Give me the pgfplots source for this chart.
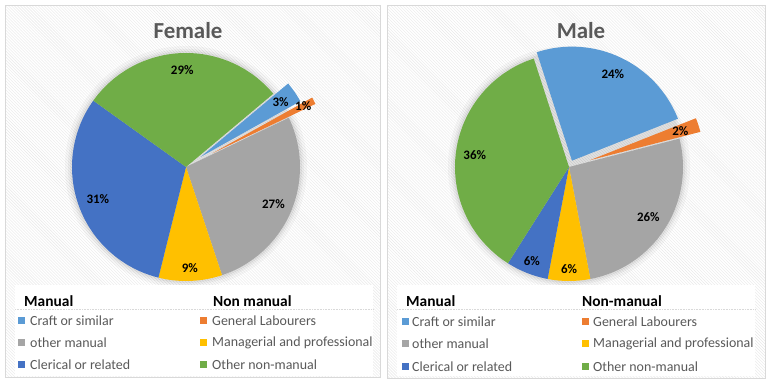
\documentclass[border=0pt]{standalone}
\usepackage{pgfplots}
\pgfplotsset{compat=1.18}
\usepackage{pgfplotstable}
\usetikzlibrary{calc,patterns}
\usepackage{fontspec}
\setmainfont{Carlito}
\definecolor{craft}{HTML}{5B9BD5}
\definecolor{labour}{HTML}{ED7D31}
\definecolor{othman}{HTML}{A5A5A5}
\definecolor{manag}{HTML}{FFC000}
\definecolor{cler}{HTML}{4472C4}
\definecolor{othnon}{HTML}{70AD47}
\definecolor{txtgray}{HTML}{595959}
\definecolor{boxgray}{HTML}{D9D9D9}

% value (%), explode offset, label radius, colour
\pgfplotstableread{
val ex lr col
3 18 115 craft
1 30 132 labour
27 0 95 othman
9 0 101 manag
31 0 94 cler
29 0 97 othnon
}\female
\pgfplotstableread{
val ex lr col
24 7 103 craft
2 22 117 labour
26 0 94 othman
6 0 102 manag
6 0 101 cler
36 0 95 othnon
}\male

\newcommand\drawpie[4]{%
  \fill[black,opacity=0.03] (axis cs:#2,#3) circle[radius=121bp];
  \fill[black,opacity=0.04] (axis cs:#2,#3) circle[radius=118bp];
  \fill[black,opacity=0.05] (axis cs:#2,#3) circle[radius=116bp];
  \pgfplotstablegetrowsof{#1}%
  \pgfmathtruncatemacro\nrows{\pgfplotsretval-1}%
  \xdef\cur{#4}%
  \foreach \i in {0,...,\nrows}{%
    \pgfplotstablegetelem{\i}{val}\of{#1}\let\pv\pgfplotsretval
    \pgfplotstablegetelem{\i}{ex}\of{#1}\let\pex\pgfplotsretval
    \pgfplotstablegetelem{\i}{lr}\of{#1}\let\plr\pgfplotsretval
    \pgfplotstablegetelem{\i}{col}\of{#1}\let\pcol\pgfplotsretval
    \pgfmathsetmacro\pend{\cur-3.6*\pv}%
    \pgfmathsetmacro\pmid{\cur-1.8*\pv}%
    \fill[\pcol] ($(axis cs:#2,#3)+(\pmid:\pex bp)$) -- ++(\cur:114bp)
      arc[start angle=\cur,end angle=\pend,radius=114bp] -- cycle;
    \node[font=\bfseries\fontsize{13}{14}\selectfont,text=black,inner sep=0pt]
      at ($(axis cs:#2,#3)+(\pmid:\plr bp)$) {\pv\%};
    \xdef\cur{\pend}%
  }%
}

\newcommand\legendbox[5]{% x0,x1, header col1 x, header col2 x, header2 text
  \fill[white] (axis cs:#1,10) rectangle (axis cs:#2,101);
  \draw[boxgray,densely dotted,line width=0.6bp] (axis cs:#1,77) -- (axis cs:#2,77);
  \node[anchor=west,inner sep=0pt,font=\bfseries\fontsize{15.5}{16}\selectfont] at (axis cs:#3,85) {Manual};
  \node[anchor=west,inner sep=0pt,font=\bfseries\fontsize{15.5}{16}\selectfont] at (axis cs:#4,85) {#5};
}

\begin{document}
\begin{tikzpicture}
\begin{axis}[
  scale only axis, width=772bp, height=386bp,
  xmin=0, xmax=772, ymin=0, ymax=386,
  hide axis, clip=false]
\addplot[draw=none] coordinates {(0,0) (772,386)};
\pgfplotsextra{
  \fill[white] (axis cs:0,0) rectangle (axis cs:772,386);
  \fill[pattern=north west lines, pattern color=black!9] (axis cs:5,8) rectangle (axis cs:380,380);
  \fill[pattern=north west lines, pattern color=black!9] (axis cs:387,7) rectangle (axis cs:765,380);
  \draw[boxgray,line width=1bp] (axis cs:5,8) rectangle (axis cs:380,380);
  \draw[boxgray,line width=1bp] (axis cs:387,7) rectangle (axis cs:765,380);
  \node[font=\bfseries\fontsize{23}{25}\selectfont,text=txtgray] at (axis cs:188,355) {Female};
  \node[font=\bfseries\fontsize{23}{25}\selectfont,text=txtgray] at (axis cs:581,355) {Male};
  \drawpie{\female}{186}{219}{40}
  \drawpie{\male}{569}{219}{108}
  % legends
  \legendbox{15}{373}{24}{213}{Non manual}
  \legendbox{397}{755}{406}{582}{Non-manual}
  \begin{scope}[font=\fontsize{14}{15}\selectfont,text=txtgray]
  % left
  \fill[craft]  (axis cs:18,61.5) rectangle ++(7bp,7bp);
  \fill[othman] (axis cs:18,39.5) rectangle ++(7bp,7bp);
  \fill[cler]   (axis cs:18,17.5) rectangle ++(7bp,7bp);
  \fill[labour] (axis cs:200,61.5) rectangle ++(7bp,7bp);
  \fill[manag]  (axis cs:200,39.5) rectangle ++(7bp,7bp);
  \fill[othnon] (axis cs:200,17.5) rectangle ++(7bp,7bp);
  \node[anchor=west,inner sep=0pt] at (axis cs:30,65) {Craft or similar};
  \node[anchor=west,inner sep=0pt] at (axis cs:30,43) {other manual};
  \node[anchor=west,inner sep=0pt] at (axis cs:30,21) {Clerical or related};
  \node[anchor=west,inner sep=0pt] at (axis cs:212,65) {General Labourers};
  \node[anchor=west,inner sep=0pt] at (axis cs:212,43) {Managerial and professional};
  \node[anchor=west,inner sep=0pt] at (axis cs:212,21) {Other non-manual};
  % right
  \fill[craft]  (axis cs:402,60.5) rectangle ++(7bp,7bp);
  \fill[othman] (axis cs:402,38.5) rectangle ++(7bp,7bp);
  \fill[cler]   (axis cs:402,15.5) rectangle ++(7bp,7bp);
  \fill[labour] (axis cs:582,60.5) rectangle ++(7bp,7bp);
  \fill[manag]  (axis cs:582,38.5) rectangle ++(7bp,7bp);
  \fill[othnon] (axis cs:582,15.5) rectangle ++(7bp,7bp);
  \node[anchor=west,inner sep=0pt] at (axis cs:412,64) {Craft or similar};
  \node[anchor=west,inner sep=0pt] at (axis cs:412,42) {other manual};
  \node[anchor=west,inner sep=0pt] at (axis cs:412,19) {Clerical or related};
  \node[anchor=west,inner sep=0pt] at (axis cs:593,64) {General Labourers};
  \node[anchor=west,inner sep=0pt] at (axis cs:593,42) {Managerial and professional};
  \node[anchor=west,inner sep=0pt] at (axis cs:593,19) {Other non-manual};
  \end{scope}
}
\end{axis}
\end{tikzpicture}
\end{document}
